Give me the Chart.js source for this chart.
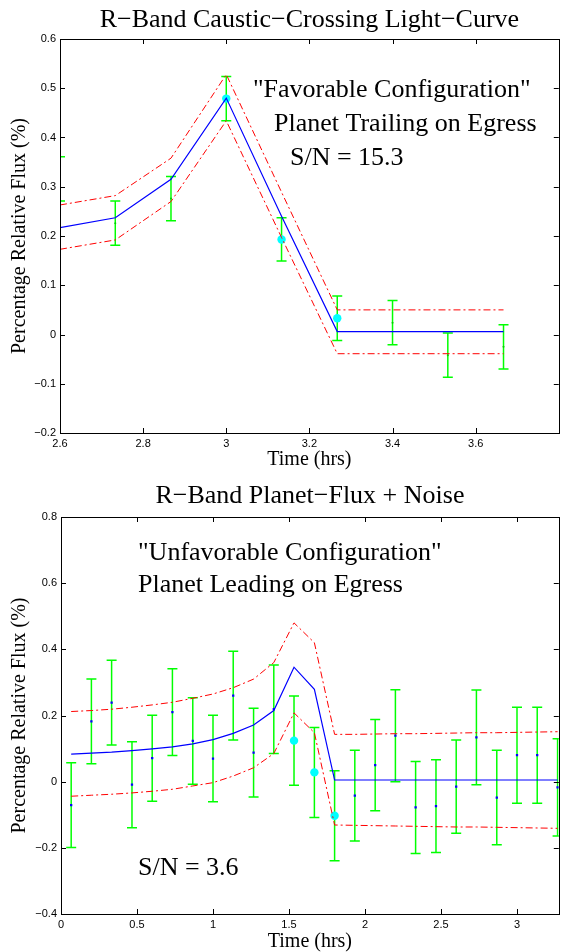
<!DOCTYPE html>
<html lang="en">
<head>
<meta charset="UTF-8">
<title>R-Band Caustic-Crossing Light-Curve</title>
<style>
body { margin: 0; background: #fff; overflow: hidden; }
.panel { position: absolute; left: 0; width: 563px; }
#topPanel { top: 0; height: 470px; }
#bottomPanel { top: 470px; height: 482px; }
</style>
<script src="https://cdn.jsdelivr.net/npm/chart.js"></script>
</head>
<body>
<div class="panel" id="topPanel"><canvas id="topChart"></canvas></div>
<div class="panel" id="bottomPanel"><canvas id="bottomChart"></canvas></div>
<script>
// top panel: caustic crossing, planet trailing
const tTop = [2.6, 2.733, 2.867, 3.0, 3.133, 3.267, 3.4, 3.533, 3.667];
const fluxTop = [0.316, 0.226, 0.276, 0.479, 0.193, 0.033, 0.024, -0.042, -0.025];
const errTop = [0.045, 0.045, 0.045, 0.045, 0.044, 0.045, 0.045, 0.045, 0.045];
const modelTop = [0.217, 0.237, 0.315, 0.48, 0.24, 0.006, 0.006, 0.006, 0.006];
const upperTop = [0.263, 0.282, 0.358, 0.528, 0.289, 0.05, 0.05, 0.05, 0.05];
const lowerTop = [0.173, 0.192, 0.27, 0.434, 0.197, -0.039, -0.039, -0.039, -0.039];
const hiTop = [3, 4, 5];

// bottom panel: planet flux + noise, planet leading
const tBot = [0.067, 0.2, 0.333, 0.467, 0.6, 0.733, 0.867, 1.0, 1.133, 1.267, 1.4, 1.533, 1.667,
              1.8, 1.933, 2.067, 2.2, 2.333, 2.467, 2.6, 2.733, 2.867, 3.0, 3.133, 3.267];
const fluxBot = [-0.071, 0.182, 0.239, -0.009, 0.071, 0.210, 0.123, 0.070, 0.260, 0.088, 0.219, 0.124, 0.028,
                 -0.103, -0.042, 0.050, 0.139, -0.078, -0.074, -0.015, 0.134, -0.048, 0.080, 0.080, -0.017];
const errBot = [0.128, 0.128, 0.128, 0.130, 0.130, 0.131, 0.131, 0.131, 0.134, 0.134, 0.134, 0.135, 0.136,
                0.136, 0.137, 0.138, 0.139, 0.139, 0.140, 0.141, 0.143, 0.143, 0.145, 0.145, 0.147];
const modelBot = [0.083, 0.086, 0.089, 0.094, 0.099, 0.105, 0.114, 0.127, 0.146, 0.171, 0.215, 0.346, 0.279,
                  0.005, 0.005, 0.005, 0.005, 0.005, 0.005, 0.005, 0.005, 0.005, 0.005, 0.005, 0.005];
const upperBot = [0.212, 0.215, 0.219, 0.225, 0.232, 0.240, 0.252, 0.265, 0.284, 0.31, 0.36, 0.48, 0.42,
                  0.143, 0.143, 0.144, 0.145, 0.145, 0.146, 0.147, 0.148, 0.148, 0.149, 0.150, 0.151];
const lowerBot = [-0.044, -0.041, -0.038, -0.034, -0.029, -0.023, -0.013, -0.003, 0.017, 0.042, 0.085, 0.208, 0.148,
                  -0.131, -0.132, -0.133, -0.134, -0.135, -0.136, -0.137, -0.137, -0.138, -0.139, -0.140, -0.141];
const hiBot = [11, 12, 13];

const serif = '"Liberation Serif", "Times New Roman", serif';
const sans = '"Liberation Sans", Arial, sans-serif';

function xy(xs, ys) { return xs.map((v, i) => ({x: v, y: ys[i]})); }
function pick(xs, ys, idx, keep) {
  return xs.map((v, i) => ({x: v, y: ys[i]})).filter((p, i) => keep ? idx.includes(i) : !idx.includes(i));
}
function fmt(v) { return String(+Number(v).toFixed(2)).replace('-', '\u2212'); }

// error bars, box, inward ticks and text
const frame = {
  id: 'frame',
  beforeDatasetsDraw(chart, args, opts) {
    const {ctx, chartArea: a, scales: {x, y}} = chart;
    ctx.save();
    ctx.beginPath();
    ctx.rect(a.left, a.top, a.right - a.left, a.bottom - a.top);
    ctx.clip();
    ctx.strokeStyle = '#00ff00';
    ctx.lineWidth = 1.5;
    opts.bars.x.forEach((t, i) => {
      const px = x.getPixelForValue(t);
      const hi = y.getPixelForValue(opts.bars.y[i] + opts.bars.err[i]);
      const lo = y.getPixelForValue(opts.bars.y[i] - opts.bars.err[i]);
      ctx.beginPath();
      ctx.moveTo(px, hi); ctx.lineTo(px, lo);
      ctx.moveTo(px - 5, hi); ctx.lineTo(px + 5, hi);
      ctx.moveTo(px - 5, lo); ctx.lineTo(px + 5, lo);
      ctx.stroke();
    });
    ctx.restore();
  },
  afterDraw(chart, args, opts) {
    const {ctx, chartArea: a, scales: {x, y}} = chart;
    ctx.save();
    ctx.strokeStyle = '#000';
    ctx.lineWidth = 1;
    ctx.strokeRect(Math.round(a.left) + 0.5, Math.round(a.top) + 0.5,
                   Math.round(a.right - a.left), Math.round(a.bottom - a.top));
    ctx.beginPath();
    x.ticks.forEach(t => {
      const px = Math.round(x.getPixelForValue(t.value)) + 0.5;
      ctx.moveTo(px, a.bottom); ctx.lineTo(px, a.bottom - 5);
      ctx.moveTo(px, a.top); ctx.lineTo(px, a.top + 5);
    });
    y.ticks.forEach(t => {
      const py = Math.round(y.getPixelForValue(t.value)) + 0.5;
      ctx.moveTo(a.left, py); ctx.lineTo(a.left + 5, py);
      ctx.moveTo(a.right, py); ctx.lineTo(a.right - 5, py);
    });
    ctx.stroke();
    ctx.fillStyle = '#000';
    ctx.textBaseline = 'alphabetic';
    ctx.font = '26px ' + serif;
    ctx.textAlign = 'center';
    ctx.fillText(opts.title, (a.left + a.right) / 2, opts.titleY);
    ctx.textAlign = 'left';
    opts.notes.forEach(n => ctx.fillText(n.text, n.x, n.y));
    ctx.restore();
  }
};

function makeChart(id, cfg) {
  const pts = cfg.blueDots
    ? {backgroundColor: '#0000ff', borderColor: '#0000ff', pointStyle: 'rect', pointRadius: 1.6}
    : {backgroundColor: '#00cc00', borderColor: '#00cc00', pointRadius: 1};
  return new Chart(document.getElementById(id), {
    type: 'scatter',
    data: {
      datasets: [
        {data: xy(cfg.t, cfg.upper), showLine: true, borderColor: '#ff0000', borderWidth: 1,
         borderDash: [7, 3, 2, 3], pointRadius: 0},
        {data: xy(cfg.t, cfg.lower), showLine: true, borderColor: '#ff0000', borderWidth: 1,
         borderDash: [7, 3, 2, 3], pointRadius: 0},
        {data: xy(cfg.t, cfg.model), showLine: true, borderColor: '#0000ff', borderWidth: 1.2, pointRadius: 0},
        Object.assign({data: pick(cfg.t, cfg.flux, cfg.hi, false), borderWidth: 0}, pts),
        {data: pick(cfg.t, cfg.flux, cfg.hi, true), backgroundColor: '#00ffff', borderColor: '#00ffff',
         pointRadius: 4.2, borderWidth: 0}
      ]
    },
    options: {
      responsive: true,
      maintainAspectRatio: false,
      animation: false,
      events: [],
      layout: {padding: cfg.padding},
      plugins: {
        legend: {display: false},
        tooltip: {enabled: false},
        frame: {bars: {x: cfg.t, y: cfg.flux, err: cfg.err}, title: cfg.title, titleY: cfg.titleY, notes: cfg.notes}
      },
      scales: {
        x: {
          type: 'linear', min: cfg.xMin, max: cfg.xMax,
          afterFit(s) { s.height = cfg.xBox; },
          grid: {display: false, drawTicks: false},
          border: {display: false},
          ticks: {stepSize: cfg.xStep, includeBounds: false, padding: 4, maxRotation: 0, autoSkip: false,
                  color: '#000', font: {family: sans, size: 11},
                  callback: v => (v > cfg.xLastLabel + 1e-6 ? '' : fmt(v))},
          title: {display: true, text: 'Time (hrs)', color: '#000', padding: 0,
                  font: {family: serif, size: 20, lineHeight: 1}}
        },
        y: {
          type: 'linear', min: cfg.yMin, max: cfg.yMax,
          afterFit(s) { s.width = cfg.yBox; },
          grid: {display: false, drawTicks: false},
          border: {display: false},
          ticks: {stepSize: cfg.yStep, includeBounds: false, padding: 4, autoSkip: false,
                  color: '#000', font: {family: sans, size: 11}, callback: fmt},
          title: {display: true, text: 'Percentage Relative Flux (%)', color: '#000', padding: {top: 10, bottom: 0},
                  font: {family: serif, size: 20, lineHeight: 1}}
        }
      }
    },
    plugins: [frame]
  });
}

makeChart('topChart', {
  t: tTop, flux: fluxTop, err: errTop, model: modelTop, upper: upperTop, lower: lowerTop, hi: hiTop,
  blueDots: false,
  xMin: 2.6, xMax: 3.8, xStep: 0.2, xLastLabel: 3.6, yMin: -0.2, yMax: 0.6, yStep: 0.1,
  padding: {top: 39, right: 2, left: 0, bottom: 0}, xBox: 37, yBox: 60,
  title: 'R\u2212Band Caustic\u2212Crossing Light\u2212Curve', titleY: 27,
  notes: [
    {text: '"Favorable Configuration"', x: 253, y: 97},
    {text: 'Planet Trailing on Egress', x: 274, y: 131},
    {text: 'S/N = 15.3', x: 290, y: 165}
  ]
});

makeChart('bottomChart', {
  t: tBot, flux: fluxBot, err: errBot, model: modelBot, upper: upperBot, lower: lowerBot, hi: hiBot,
  blueDots: true,
  xMin: 0, xMax: 3.275, xStep: 0.5, xLastLabel: 3, yMin: -0.4, yMax: 0.8, yStep: 0.2,
  padding: {top: 47, right: 1, left: 0, bottom: 0}, xBox: 38, yBox: 61,
  title: 'R\u2212Band Planet\u2212Flux + Noise', titleY: 33,
  notes: [
    {text: '"Unfavorable Configuration"', x: 138, y: 90},
    {text: 'Planet Leading on Egress', x: 138, y: 122},
    {text: 'S/N = 3.6', x: 138, y: 405}
  ]
});
</script>
</body>
</html>
